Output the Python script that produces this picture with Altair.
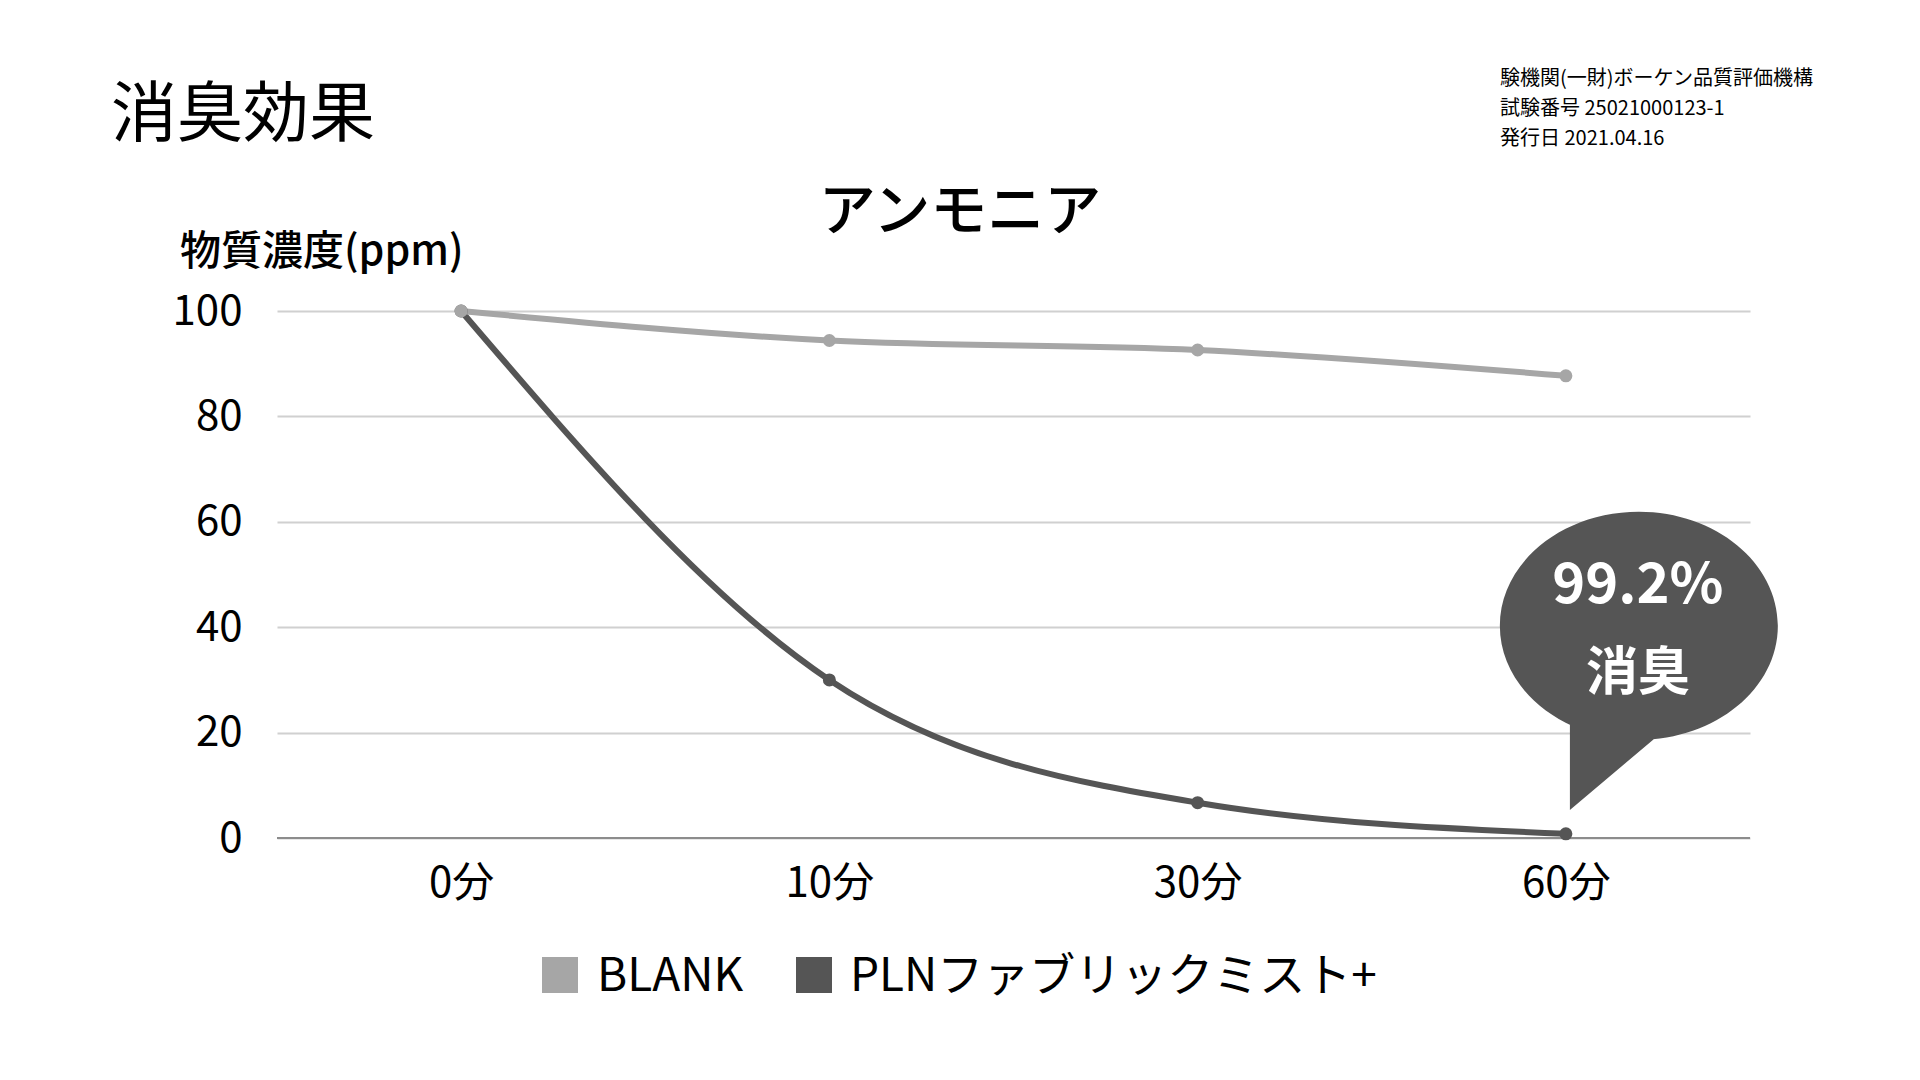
import altair as alt
import pandas as pd

# ---- data ----
times = ["0分", "10分", "30分", "60分"]
blank = [100, 94.4, 92.6, 87.7]
pln = [100, 30.0, 6.7, 0.8]
series_names = ["BLANK", "PLNファブリックミスト+"]
colors = ["#a6a6a6", "#555555"]
y_ticks = [0, 20, 40, 60, 80, 100]
title_text = "消臭効果"
chart_title = "アンモニア"
y_title = "物質濃度(ppm)"
source_lines = ["験機関(一財)ボーケン品質評価機構", "試験番号 25021000123-1", "発行日 2021.04.16"]
callout_value = "99.2%"
callout_word = "消臭"

FONT = "Noto Sans CJK JP"

rows = []
for name, vals in zip(series_names[::-1], [pln, blank]):
    for t, v in zip(times, vals):
        rows.append({"time": t, "series": name, "value": v})
df = pd.DataFrame(rows)

W, H = 1473, 527

x_enc = alt.X("time:N", sort=times, scale=alt.Scale(type="point", padding=0.5),
              axis=alt.Axis(title=None, labelAngle=0, labelFontSize=42, labelColor="black",
                            labelFont=FONT, labelPadding=25, domain=False, ticks=False, grid=False))
y_enc = alt.Y("value:Q", scale=alt.Scale(domain=[0, 100], nice=False),
              axis=alt.Axis(title=None, values=y_ticks, labelFontSize=42, labelFont=FONT,
                            labelColor="black", labelPadding=35, domain=False, ticks=False,
                            grid=True, gridColor="#d0d0d0", gridWidth=2))

color_enc = alt.Color("series:N", sort=series_names,
                      scale=alt.Scale(domain=series_names, range=colors), legend=None)

base = alt.Chart(df)

zero_rule = alt.Chart(pd.DataFrame({"v": [0]})).mark_rule(color="#8c8c8c", strokeWidth=2).encode(
    y=alt.datum(0))

lines = base.mark_line(
    interpolate="monotone", strokeWidth=6,
    point=alt.OverlayMarkDef(size=170, filled=True, opacity=1, strokeWidth=0),
).encode(x=x_enc, y=y_enc, color=color_enc)

# speech bubble shape (unit = S px), origin at last PLN data point
S = 139.0
cx, cy, ry = 73 / S, -208 / S, 114 / S
k = 0.5523


def f(v):
    return f"{v:.3f}"


ell = (
    f"M {f(cx+1)} {f(cy)} "
    f"C {f(cx+1)} {f(cy+k*ry)} {f(cx+k)} {f(cy+ry)} {f(cx)} {f(cy+ry)} "
    f"C {f(cx-k)} {f(cy+ry)} {f(cx-1)} {f(cy+k*ry)} {f(cx-1)} {f(cy)} "
    f"C {f(cx-1)} {f(cy-k*ry)} {f(cx-k)} {f(cy-ry)} {f(cx)} {f(cy-ry)} "
    f"C {f(cx+k)} {f(cy-ry)} {f(cx+1)} {f(cy-k*ry)} {f(cx+1)} {f(cy)} Z"
)
tail = (
    f"M {f(cx-0.496)} {f(cy+0.6)} L {f(cx+0.1)} {f(cy+0.6)} "
    f"L {f(cx+0.15)} {f(cy+0.78)} L {f(cx-0.496)} {f(cy+1.324)} Z"
)
bubble_path = ell + " " + tail

last_pln = base.transform_filter(
    (alt.datum.series == series_names[1]) & (alt.datum.time == times[-1]))

bubble = last_pln.mark_point(shape=bubble_path, size=int((2 * S) ** 2), filled=True,
                             fill="#555555", opacity=1, strokeWidth=0).encode(x=x_enc, y=y_enc)

callout1 = last_pln.mark_text(font=FONT, fontSize=56, fontWeight="bold", color="white",
                              align="center", baseline="middle", dx=72, dy=-248
                              ).encode(x=x_enc, y=y_enc, text=alt.value(callout_value))
callout2 = last_pln.mark_text(font=FONT, fontSize=52, fontWeight="bold", color="white",
                              align="center", baseline="middle", dx=72, dy=-160
                              ).encode(x=x_enc, y=y_enc, text=alt.value(callout_word))


def label(text, x, y, size, align="left", baseline="middle", color="black", **kw):
    return alt.Chart(pd.DataFrame({"t": [text]})).mark_text(
        font=FONT, fontSize=size, align=align, baseline=baseline, color=color, **kw
    ).encode(x=alt.value(x), y=alt.value(y), text="t:N")


t_main = label(title_text, -166, -195, 66)
t_chart = label(chart_title, 683, -98, 57, align="center", fontWeight=500)
t_y = label(y_title, -97, -58, 41, fontWeight=500)
t_src = label("\n".join(source_lines), 1223, -226, 20, baseline="alphabetic",
              lineBreak="\n", lineHeight=30)

# manual legend
legend_layers = []
leg_sym_x = [283, 537]
leg_lab_x = [320, 573]
leg_y = 664
for name, col, sx, lx in zip(series_names, colors, leg_sym_x, leg_lab_x):
    sq = alt.Chart(pd.DataFrame({"s": [name]})).mark_square(
        size=1296, filled=True, opacity=1, color=col, strokeWidth=0
    ).encode(x=alt.value(sx), y=alt.value(leg_y))
    legend_layers.append(sq)
    legend_layers.append(label(name, lx, leg_y + 2, 46))

chart = alt.layer(
    zero_rule, lines, bubble, callout1, callout2, t_main, t_chart, t_y, t_src, *legend_layers
).properties(
    width=W, height=H,
    autosize=alt.AutoSizeParams(type="none"),
    padding={"left": 269, "top": 303, "right": 150, "bottom": 200},
    background="white",
).configure_view(strokeWidth=0)

chart.save("out.html", embed_options={"renderer": "svg", "actions": False})
